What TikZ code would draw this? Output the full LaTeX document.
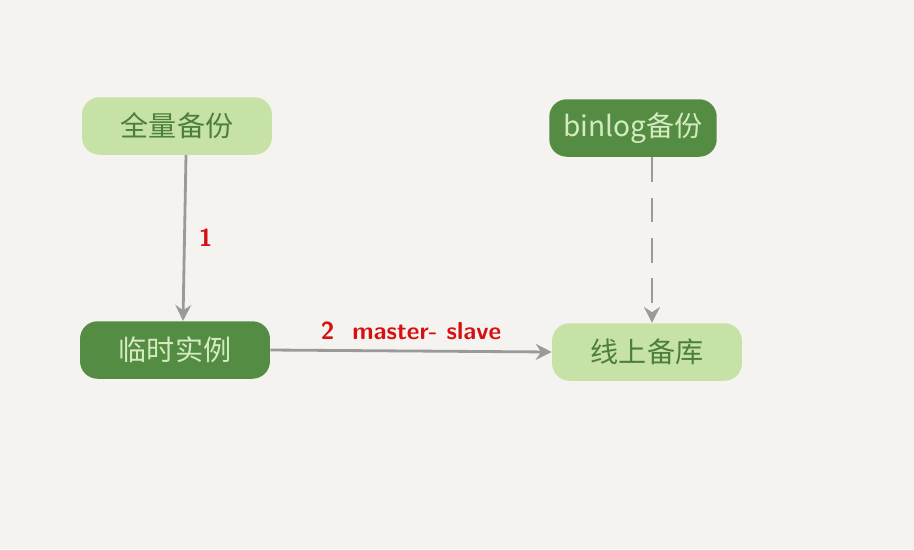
\documentclass[tikz,border=0pt]{standalone}
\usepackage{fontspec}
\newfontfamily\cjk{Noto Sans CJK SC}
\usetikzlibrary{arrows.meta,positioning}
\definecolor{bg}{HTML}{F4F3EF}
\definecolor{lightg}{HTML}{C6E2A6}
\definecolor{darkg}{HTML}{548C43}
\definecolor{txtd}{HTML}{4C7F3A}
\definecolor{txtl}{HTML}{D4EBC0}
\definecolor{arr}{HTML}{9A9A9A}
\definecolor{lab}{HTML}{D41010}
\tikzset{
  lightbox/.style={fill=lightg,text=txtd,rounded corners=10pt,minimum width=3.8cm,minimum height=1.15cm,font=\cjk\fontsize{16}{16}\selectfont},
  darkbox/.style={fill=darkg,text=txtl,rounded corners=10pt,minimum width=3.8cm,minimum height=1.15cm,font=\cjk\fontsize{16}{16}\selectfont},
  conn/.style={draw=arr,line width=1.6pt,-{Stealth[length=9pt,width=9pt]}},
  steplabel/.style={text=lab,font=\sffamily\bfseries\fontsize{14}{14}\selectfont}
}
\begin{document}
\begin{tikzpicture}[x=0.02cm,y=-0.02cm]
\fill[bg] (0,0) rectangle (914,549);
\useasboundingbox (0,0) rectangle (914,549);
\node[lightbox] (full) at (177,126) {全量备份};
\node[darkbox,minimum width=3.35cm] (binlog) at (633,128) {binlog备份};
\node[darkbox] (temp) at (175,350) {临时实例};
\node[lightbox] (online) at (647,352) {线上备库};
\draw[conn] (full.south -| 186,0) -- node[right=4pt,steplabel] {1} (temp.north -| 183,0);
\draw[conn] (temp.east) -- node[above=2pt,steplabel] {2\ \ master-\ slave} (online.west);
\draw[conn,dashed,dash pattern=on 14pt off 9pt] (binlog.south -| 652,0) -- (online.north -| 652,0);
\end{tikzpicture}
\end{document}
